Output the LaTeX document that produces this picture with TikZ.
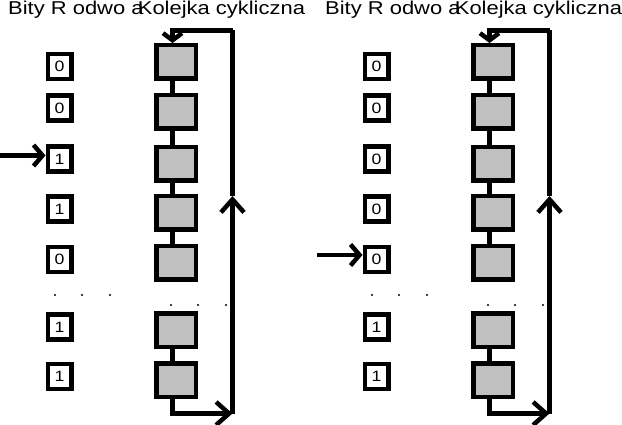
\documentclass[tikz,border=0pt]{standalone}
\usepackage{fontspec}
\setmainfont{Liberation Sans}
\usepackage{graphicx}
\usepackage{xcolor}
\usetikzlibrary{arrows.meta}
\definecolor{ramkagray}{HTML}{C0C0C0}
\newcommand{\szer}[1]{\scalebox{1.18}[1]{#1}}

\begin{document}
\begin{tikzpicture}[x=1pt, y=-1pt,
    bit/.style={draw, line width=4.5pt, minimum width=23.5pt, minimum height=25pt, inner sep=0pt, font=\fontsize{15}{15}\selectfont},
    ramka/.style={draw, line width=4.5pt, fill=ramkagray, minimum width=39.5pt, minimum height=33.5pt, inner sep=0pt},
    lacze/.style={line width=4.5pt},
    grot/.style={line width=4.5pt, -{Straight Barb[length=13pt, width=23pt]}},
    grotmaly/.style={line width=4.5pt, -{Straight Barb[length=7pt, width=19pt]}},
    grotkrotki/.style={line width=4.5pt, -{Straight Barb[length=9pt, width=21pt]}},
    tytul/.style={anchor=base west, inner sep=0pt, font=\fontsize{18.6}{18.6}\selectfont}]
    \useasboundingbox (0,0) rectangle (622,425);

    \foreach \p/\dx/\wsk/\wy/\bity in {l/0/3/155.5/{0,0,1,1,0,1,1}, r/317/5/255/{0,0,0,0,0,1,1}} {
        % naglowki
        \node[tytul] (\p-t1) at (\dx+8,15) {\szer{Bity R odwo a}};
        \node[tytul] (\p-t2) at (\dx+137.7,15) {\szer{Kolejka cykliczna}};
        % bity i ramki
        \foreach \v [count=\i] in \bity {
            \pgfmathsetmacro\by{{66.5,108,159,209,259.5,327,376.5}[\i-1]}
            \pgfmathsetmacro\gy{{62,112,164,213,263,330,380}[\i-1]}
            \node[bit] (\p-b\i) at (\dx+59.5,\by) {\szer{\v}};
            \node[ramka] (\p-g\i) at (\dx+176,\gy) {};
        }
        \foreach \i/\j in {1/2,2/3,3/4,4/5,6/7}
            \draw[lacze] ([xshift=-3.5pt]\p-g\i.south) -- ([xshift=-3.5pt]\p-g\j.north);
        % kropki
        \foreach \x in {55,82,110}
            \fill (\dx+\x,295) circle (1.1pt);
        \foreach \x in {171,198,226}
            \fill (\dx+\x,305) circle (1.1pt);
        % obieg kolejki
        \coordinate (\p-rd) at (\dx+232.5,413.5);
        \coordinate (\p-rs) at (\dx+232.5,196);
        \coordinate (\p-rg) at (\dx+232.5,30.5);
        \draw[grot] ([xshift=-3.5pt]\p-g7.south) |- (\p-rd);
        \draw[grot] (\p-rd) -- (\p-rs);
        \draw[lacze] (\p-rs) -- (\p-rg);
        \draw[grotmaly] (\p-rg) -| ([xshift=-3.5pt]\p-g1.north);
        % wskaznik
        \coordinate (\p-wsk) at (\dx,\wy);
        \draw[grotkrotki] (\p-wsk) -- (\p-b\wsk.west |- \p-wsk);
    }
\end{tikzpicture}
\end{document}
